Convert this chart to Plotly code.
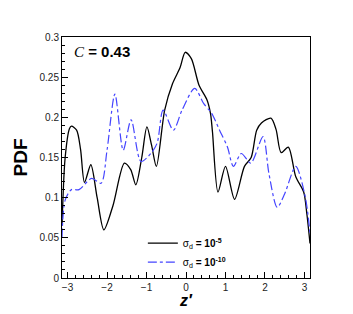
import plotly.graph_objects as go

# black curve, sigma_d = 1e-5
z_a = [-3.14, -3.06, -2.95, -2.90, -2.77, -2.67, -2.57, -2.41, -2.25, -2.08,
       -1.85, -1.56, -1.40, -1.27, -1.12, -0.99, -0.87, -0.75, -0.54, -0.34,
       -0.15, -0.02, 0.135, 0.33, 0.53, 0.62, 0.67, 0.81, 1.0, 1.23, 1.48,
       1.65, 1.79, 1.91, 2.15, 2.28, 2.41, 2.59, 2.78, 2.98, 3.06, 3.14]
pdf_a = [0.065, 0.150, 0.186, 0.189, 0.184, 0.160, 0.119, 0.141, 0.100, 0.060,
         0.090, 0.143, 0.135, 0.116, 0.150, 0.188, 0.165, 0.139, 0.209, 0.242,
         0.262, 0.281, 0.273, 0.240, 0.222, 0.205, 0.182, 0.107, 0.139, 0.098, 0.139,
         0.150, 0.184, 0.193, 0.199, 0.185, 0.156, 0.163, 0.126, 0.107, 0.080, 0.043]

# blue dash-dot curve, sigma_d = 1e-10
z_b = [-3.14, -3.06, -2.90, -2.71, -2.39, -2.15, -2.00, -1.80, -1.59, -1.39,
       -1.14, -0.89, -0.73, -0.58, -0.32, -0.10, 0.22, 0.45, 0.65, 0.85,
       1.05, 1.20, 1.40, 1.64, 1.95, 2.10, 2.31, 2.50, 2.78, 3.02, 3.14]
pdf_b = [0.050, 0.097, 0.110, 0.110, 0.124, 0.118, 0.159, 0.229, 0.159, 0.197,
         0.145, 0.155, 0.168, 0.209, 0.184, 0.209, 0.236, 0.217, 0.205, 0.184,
         0.163, 0.139, 0.155, 0.143, 0.176, 0.130, 0.088, 0.105, 0.139, 0.101, 0.056]

fig = go.Figure()
fig.add_trace(go.Scatter(
    x=z_a, y=pdf_a, mode='lines', name='\u03c3<sub>d</sub> <b>= 10<sup>-5</sup></b>',
    line=dict(color='black', width=1.3, shape='spline', smoothing=0.8)))
fig.add_trace(go.Scatter(
    x=z_b, y=pdf_b, mode='lines', name='\u03c3<sub>d</sub> <b>= 10<sup>-10</sup></b>',
    line=dict(color='#4444ff', width=1.2, dash='dashdot', shape='spline', smoothing=0.8)))

# page body has an 8px default margin, so the figure is a bit smaller than the window
tickfont = dict(family='Arial', size=10, color='#222')
fig.update_layout(
    width=345, height=306,
    margin=dict(l=38, r=43, t=29, b=36),
    paper_bgcolor='white', plot_bgcolor='white',
    font=dict(family='Arial', color='black'),
    legend=dict(x=0.326, y=0.205, xanchor='left', yanchor='top',
                bgcolor='rgba(0,0,0,0)', font=dict(family='Arial', size=10),
                tracegroupgap=0, itemwidth=30),
    xaxis=dict(range=[-3.14, 3.14], dtick=1, tick0=0, ticks='inside', ticklen=6,
               tickcolor='black', showgrid=False, zeroline=False,
               showline=True, linecolor='black', linewidth=1, mirror=True,
               tickfont=tickfont,
               minor=dict(dtick=0.2, tick0=0, ticks='inside', ticklen=3, tickcolor='black')),
    yaxis=dict(range=[0, 0.3], dtick=0.05, tick0=0, ticks='inside', ticklen=6,
               tickcolor='black', showgrid=False, zeroline=False,
               showline=True, linecolor='black', linewidth=1, mirror=True,
               tickfont=tickfont,
               minor=dict(dtick=0.01, tick0=0, ticks='inside', ticklen=3, tickcolor='black'),
               title=dict(text='<b>PDF</b>', font=dict(family='Arial', size=19),
                          standoff=6)),
    annotations=[
        dict(x=0.04, y=0.94, xref='paper', yref='paper', xanchor='left', yanchor='middle',
             showarrow=False,
             text="<span style='font-family:Times New Roman, Liberation Serif, serif'><i>C</i></span>"
                  "<b> = 0.43</b>",
             font=dict(family='Arial', size=15, color='black')),
        dict(x=0.5, y=-0.095, xref='paper', yref='paper', xanchor='center', yanchor='middle',
             showarrow=False, text='<b><i>z\u2032</i></b>',
             font=dict(family='Arial', size=16, color='black')),
    ],
)

fig.write_html("out.html")
